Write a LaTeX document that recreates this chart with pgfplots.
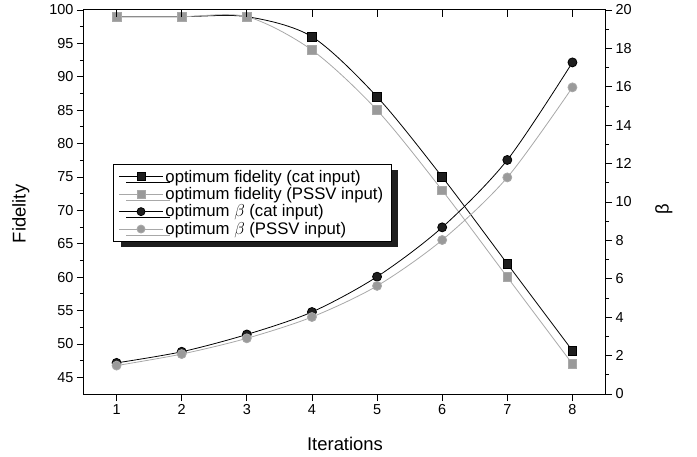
\documentclass[border=0pt]{standalone}
\usepackage{fontspec}
\setmainfont{Liberation Sans}
\usepackage{pgfplots}
\pgfplotsset{compat=1.18}
\usetikzlibrary{shadows}
\definecolor{dk}{HTML}{1E1E1E}
\definecolor{gm}{HTML}{9A9A9A}
\definecolor{gl}{HTML}{A8A8A8}
\pgfplotsset{
  common/.style={
    at={(0,0)}, anchor=south west,
    scale only axis, width=521bp, height=384bp,
    xmin=0.5, xmax=8.5,
    xtick={1,...,8},
    major tick length=7bp, minor tick length=4bp,
    axis line style={line width=1bp},
    every tick/.style={line width=0.8bp, black},
    tick label style={font=\fontsize{14.5}{16}\selectfont},
    /pgf/number format/assume math mode=true,
  },
  cat/.style={color=black, line width=0.8bp, mark options={fill=dk, draw=none}},
  pssv/.style={color=gl, line width=0.8bp, mark options={fill=gm, draw=none}},
}
\begin{document}
\begin{tikzpicture}
\useasboundingbox (-84bp,-63bp) rectangle (613bp,394bp);
% left axis: fidelity
\begin{axis}[common,
  ymin=42.5, ymax=100,
  ytick={45,50,...,100}, minor y tick num=1,
  xtick pos=bottom, ytick pos=left, tick align=outside,
  xlabel={Iterations}, ylabel={Fidelity},
  every axis x label/.style={at={(axis description cs:0.501,-0.130)}, anchor=center, font=\fontsize{18.5}{20}\selectfont},
  every axis y label/.style={at={(axis description cs:-0.121,0.469)}, anchor=center, rotate=90, font=\fontsize{18.5}{20}\selectfont},
]
\addplot[cat, smooth, mark=square*, mark size=4.4bp] coordinates {
(1,99) (2,99) (3,99) (4,96) (5,87) (6,75) (7,62) (8,49)};
\addplot[pssv, smooth, mark=square*, mark size=4.4bp] coordinates {
(1,99) (2,99) (3,99) (4,94) (5,85) (6,73) (7,60) (8,47)};
\end{axis}
% right axis: beta
\begin{axis}[common,
  ymin=0, ymax=20,
  ytick={0,2,...,20}, minor y tick num=1,
  hide x axis, axis y line*=right, tick align=outside,
  ylabel={β},
  every axis y label/.style={at={(axis description cs:1.113,0.48)}, anchor=center, rotate=90, font=\fontsize{18.5}{20}\selectfont},
  legend cell align=left,
  legend image code/.code={\draw[mark repeat=2,mark phase=2,#1] plot coordinates {(0cm,0cm) (0.76cm,0cm) (1.52cm,0cm)};},
  legend image post style={mark size=4bp},
  legend style={at={(axis description cs:0.056,0.599)}, anchor=north west,
    draw=black, line width=0.8bp, fill=white,
    drop shadow={shadow xshift=7bp, shadow yshift=-6bp, fill=dk, opacity=1},
    font=\fontsize{16.8}{17}\selectfont, row sep=2.6bp, inner xsep=5.5bp, inner ysep=5bp,
    nodes={inner ysep=0.6bp, inner xsep=2.5bp}},
]
\addlegendimage{cat, mark=square*}
\addlegendentry{optimum fidelity (cat input)}
\addlegendimage{pssv, mark=square*}
\addlegendentry{optimum fidelity (PSSV input)}
\addplot[cat, smooth, mark=*, mark size=4.5bp] coordinates {
(1,1.62) (2,2.2) (3,3.1) (4,4.27) (5,6.11) (6,8.68) (7,12.19) (8,17.27)};
\addlegendentry{optimum $\beta$ (cat input)}
\addplot[pssv, smooth, mark=*, mark size=4.5bp] coordinates {
(1,1.48) (2,2.08) (3,2.9) (4,4.01) (5,5.63) (6,8.02) (7,11.28) (8,15.97)};
\addlegendentry{optimum $\beta$ (PSSV input)}
\end{axis}
% top ticks pointing inward
\begin{axis}[common,
  ymin=0, ymax=1, hide y axis,
  axis x line*=top, tick align=inside, xticklabels={},
]
\end{axis}
\end{tikzpicture}
\end{document}
